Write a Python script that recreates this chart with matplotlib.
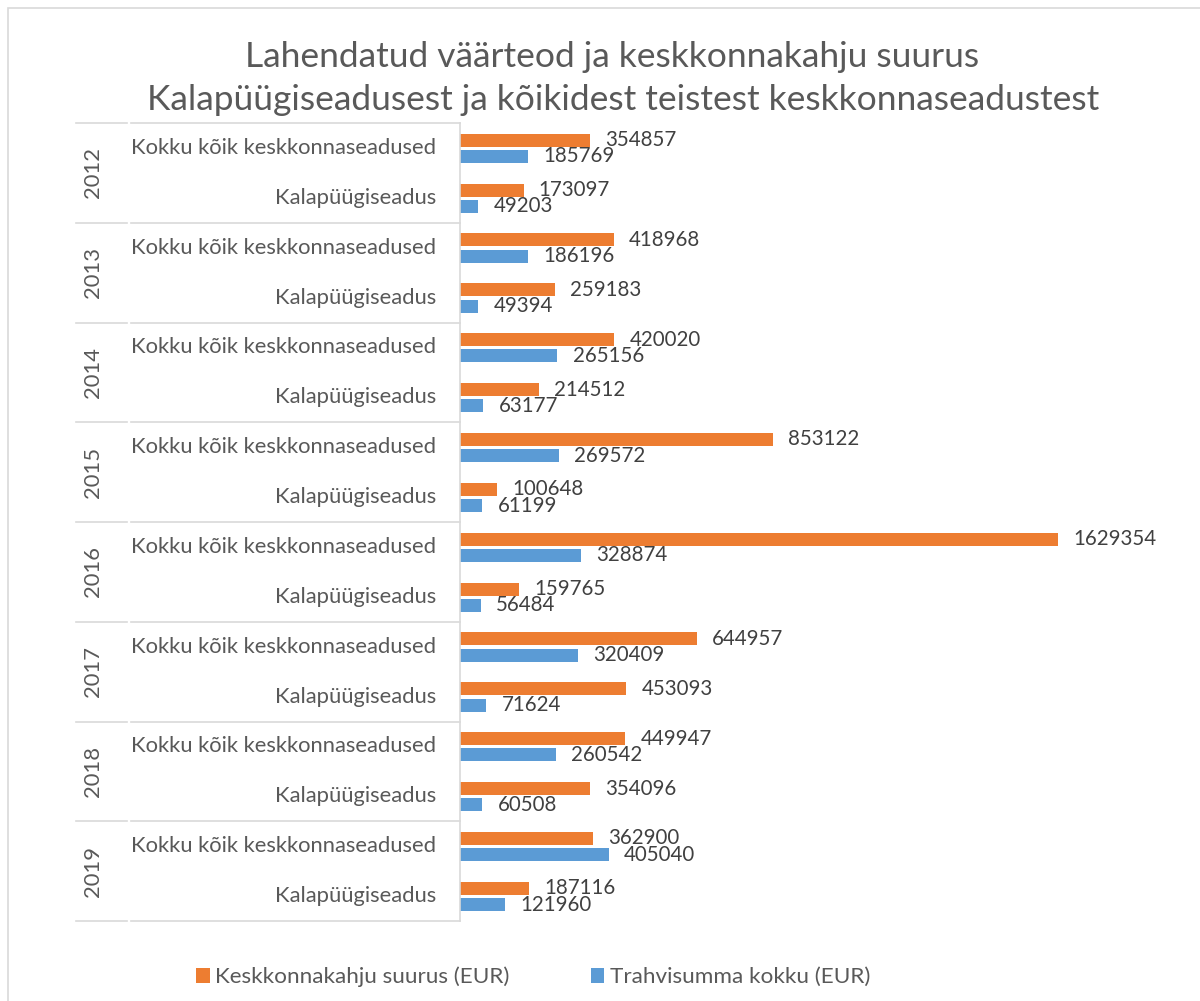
import matplotlib
matplotlib.use("Agg")
import matplotlib.pyplot as plt
from matplotlib.lines import Line2D
from matplotlib.patches import Rectangle
import numpy as np

plt.rcParams['font.family'] = ['Lato', 'DejaVu Sans']

# data
years = ['2012', '2013', '2014', '2015', '2016', '2017', '2018', '2019']
categories = ['Kokku kõik keskkonnaseadused', 'Kalapüügiseadus']
kahju = [354857, 173097, 418968, 259183, 420020, 214512, 853122, 100648,
         1629354, 159765, 644957, 453093, 449947, 354096, 362900, 187116]
trahv = [185769, 49203, 186196, 49394, 265156, 63177, 269572, 61199,
         328874, 56484, 320409, 71624, 260542, 60508, 405040, 121960]
series_names = ['Keskkonnakahju suurus (EUR)', 'Trahvisumma kokku (EUR)']

ORANGE = '#ED7D31'
BLUE = '#5B9BD5'
GRID = '#D9D9D9'
TXT = '#595959'
LBL = '#404040'
FS = 14.8      # data labels
FS_CAT = 15.8  # axis labels
FS_LEG = 16.2

W, H = 1200, 1001
fig = plt.figure(figsize=(W / 100, H / 100), dpi=100)

# plot area in pixel terms of the reference
left_px, right_px, top_px, bot_px = 460, 1190, 123, 921
ax = fig.add_axes([left_px / W, 1 - bot_px / H, (right_px - left_px) / W, (bot_px - top_px) / H])

n = len(kahju)
y = np.arange(n)
bh = 0.26
b1 = ax.barh(y - 0.155, kahju, height=bh, color=ORANGE, label=series_names[0])
b2 = ax.barh(y + 0.17, trahv, height=bh, color=BLUE, label=series_names[1])
ax.bar_label(b1, fmt='%d', padding=11, fontsize=FS, color=LBL)
ax.bar_label(b2, fmt='%d', padding=11, fontsize=FS, color=LBL)

ax.set_ylim(n - 0.5, -0.5)
ax.set_xlim(0, 1629354 / 598 * (right_px - left_px))
ax.set_xticks([])
ax.set_yticks([])
for s in ['top', 'right', 'bottom']:
    ax.spines[s].set_visible(False)
ax.spines['left'].set_color(GRID)
ax.spines['left'].set_linewidth(1.2)

# multi-level category axis
tr = ax.get_yaxis_transform()
span = right_px - left_px
x_far = (76 - left_px) / span
x_mid = (129 - left_px) / span
for k in range(len(years) + 1):
    yy = 2 * k - 0.5
    ax.add_line(Line2D([x_far, x_mid - 0.003], [yy, yy], transform=tr, color=GRID, lw=1.2, clip_on=False))
    ax.add_line(Line2D([x_mid + 0.003, 0], [yy, yy], transform=tr, color=GRID, lw=1.2, clip_on=False))

for i in range(n):
    ax.text((436 - left_px) / span, i, categories[i % 2], transform=tr,
            ha='right', va='center', fontsize=FS_CAT, color=TXT)
for k, yr in enumerate(years):
    ax.text((93 - left_px) / span, 2 * k + 0.5, yr, transform=tr, rotation=90,
            ha='center', va='center', fontsize=FS_CAT, color=TXT)

# title
fig.text(612 / W, 1 - 57 / H, 'Lahendatud väärteod ja keskkonnakahju suurus',
         ha='center', va='center', fontsize=25.5, color=TXT)
fig.text(623 / W, 1 - 100 / H, 'Kalapüügiseadusest ja kõikidest teistest keskkonnaseadustest',
         ha='center', va='center', fontsize=25.5, color=TXT)

# legend
fig.legend(handles=[b1, b2], labels=series_names, loc='center',
           bbox_to_anchor=(533 / W, 1 - 977 / H), ncol=2, frameon=False,
           fontsize=FS_LEG, labelcolor=TXT, handlelength=0.6, handleheight=0.6,
           handletextpad=0.25, columnspacing=3.6)

# chart border
fig.patches.append(Rectangle((8 / W, -0.1), 1.2, 1 - 8 / H + 0.1, transform=fig.transFigure,
                             fill=False, edgecolor=GRID, lw=1.2))

fig.savefig('out.png', dpi=100, facecolor='white')
